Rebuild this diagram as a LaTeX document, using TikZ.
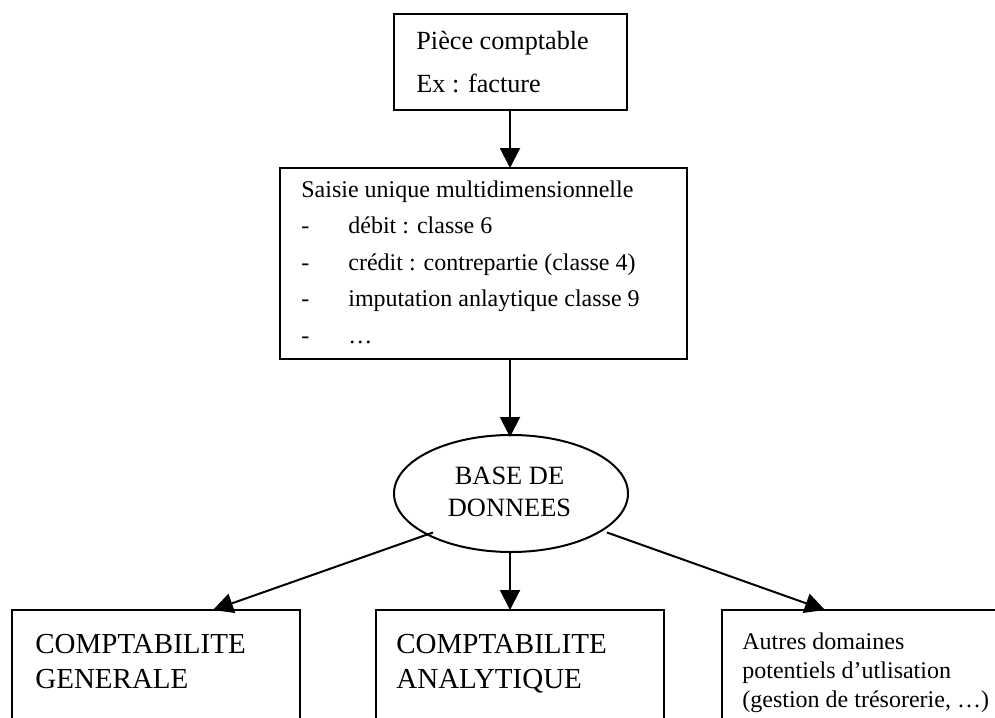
\documentclass[tikz,border=0pt]{standalone}
\usepackage{fontspec}
\setmainfont{Liberation Serif}
\usetikzlibrary{shapes.geometric,arrows.meta,fit}
\begin{document}
\begin{tikzpicture}[x=0.5pt,y=-0.5pt,
  boxframe/.style={draw,line width=1pt,inner sep=0pt},
  txt/.style={anchor=base west,inner sep=0pt,font=\fontsize{12}{14}\selectfont},
  txtb/.style={anchor=base west,inner sep=0pt,font=\fontsize{13.1}{15}\selectfont},
  txtc/.style={anchor=base west,inner sep=0pt,font=\fontsize{14.5}{16}\selectfont},
  txtm/.style={anchor=base,inner sep=0pt,font=\fontsize{13.2}{15}\selectfont},
  arr/.style={line width=1pt,-{Triangle[width=10pt,length=10pt]}},
  conn/.style={line width=1pt}]
\useasboundingbox (0,0) rectangle (995,717);
\clip (0,0) rectangle (995,717);
\fill[white] (0,0) rectangle (995,717);
% boxes
\node[boxframe,fit={(394,14) (627,110)}] (piece) {};
\node[boxframe,fit={(280,168) (687,359)}] (saisie) {};
\node[draw,ellipse,line width=1pt,minimum width=117pt,minimum height=58.5pt,inner sep=0pt] (db) at (511,493.5) {};
\node[boxframe,fit={(12,610) (300,740)}] (gen) {};
\node[boxframe,fit={(376,610) (664,740)}] (ana) {};
\node[boxframe,fit={(722,610) (1010,740)}] (autres) {};
% texts
\node[txtb] (t1) at (416,50) {Pièce comptable};
\node[txtb] (t2) at (416,93) {Ex : facture};
\node[txt] (s0) at (301,197) {Saisie unique multidimensionnelle};
\node[txt] (d1) at (301,233) {-};
\node[txt] (s1) at (348,233) {débit : classe 6};
\node[txt] (d2) at (301,270) {-};
\node[txt] (s2) at (348,270) {crédit : contrepartie (classe 4)};
\node[txt] (d3) at (301,306.5) {-};
\node[txt] (s3) at (348,306.5) {imputation anlaytique classe 9};
\node[txt] (d4) at (301,343) {-};
\node[txt] (s4) at (348,343) {…};
\node[txtm] (b1) at (509.5,484) {BASE DE};
\node[txtm] (b2) at (509.5,516) {DONNEES};
\node[txtc] (g1) at (35,653) {COMPTABILITE};
\node[txtc] (g2) at (35,688) {GENERALE};
\node[txtc] (a1) at (396,653) {COMPTABILITE};
\node[txtc] (a2) at (396,688) {ANALYTIQUE};
\node[txt] (o1) at (742,649) {Autres domaines};
\node[txt] (o2) at (742,678) {potentiels d’utlisation};
\node[txt] (o3) at (742,707) {(gestion de trésorerie, …)};
% connector end points
\coordinate (p0) at (510,110);
\coordinate (p1) at (510,168);
\coordinate (q0) at (510,359);
\coordinate (q1) at (510,437);
\coordinate (l0) at (433,532.5);
\coordinate (l1) at (213,610);
\coordinate (m0) at (510,552);
\coordinate (m1) at (510,610);
\coordinate (r0) at (607,532.5);
\coordinate (r1) at (825,610);
\draw[arr] (p0) -- (p1);
\draw[arr] (q0) -- (q1);
\draw[arr] (l0) -- (l1);
\draw[arr] (m0) -- (m1);
\draw[arr] (r0) -- (r1);
\end{tikzpicture}
\end{document}
